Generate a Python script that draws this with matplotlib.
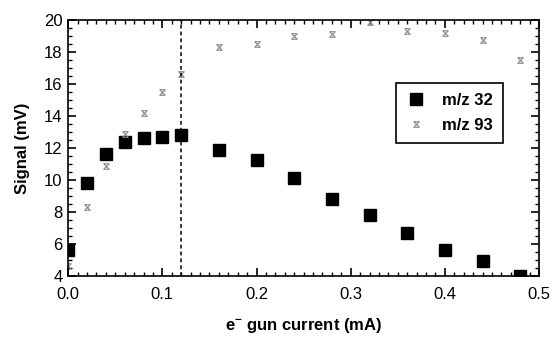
import numpy as np
import matplotlib.pyplot as plt
from matplotlib.path import Path
from matplotlib.ticker import MultipleLocator, FormatStrFormatter

plt.rcParams['font.family'] = ['Liberation Sans', 'DejaVu Sans']
plt.rcParams['mathtext.fontset'] = 'custom'
plt.rcParams['mathtext.rm'] = 'Liberation Sans'
plt.rcParams['mathtext.bf'] = 'Liberation Sans:bold'

# e-gun current (mA)
current = [0.0, 0.02, 0.04, 0.06, 0.08, 0.10, 0.12, 0.16, 0.20, 0.24,
           0.28, 0.32, 0.36, 0.40, 0.44, 0.48]
# signal (mV)
mz32 = [5.6, 9.8, 11.6, 12.4, 12.6, 12.7, 12.8, 11.9, 11.25, 10.1,
        8.8, 7.8, 6.7, 5.6, 4.95, 4.0]
mz93 = [4.6, 8.3, 10.9, 12.9, 14.2, 15.5, 16.6, 18.3, 18.5, 19.0,
        19.1, 19.9, 19.3, 19.2, 18.75, 17.5]
cutoff = 0.12

# little hourglass marker
hourglass = Path([(-1, 1), (1, 1), (-1, -1), (1, -1), (-1, 1)],
                 [Path.MOVETO, Path.LINETO, Path.LINETO, Path.LINETO, Path.LINETO])

fig = plt.figure(figsize=(5.5, 3.4), dpi=100)
ax = fig.add_axes([0.124, 0.188, 0.856, 0.753])

ax.plot(current, mz32, 's', color='black', markersize=9, label='m/z 32')
ax.plot(current, mz93, linestyle='none', marker=hourglass, markersize=4,
        markerfacecolor='none', markeredgecolor='#888888', markeredgewidth=0.8,
        label='m/z 93')
ax.axvline(cutoff, color='black', linestyle=(0, (2.5, 2)), linewidth=1.1)

ax.set_xlim(0, 0.5)
ax.set_ylim(4, 20)
ax.xaxis.set_major_locator(MultipleLocator(0.1))
ax.xaxis.set_minor_locator(MultipleLocator(0.01))
ax.xaxis.set_major_formatter(FormatStrFormatter('%.1f'))
ax.yaxis.set_major_locator(MultipleLocator(2))
ax.yaxis.set_minor_locator(MultipleLocator(0.5))
ax.tick_params(which='both', direction='in', top=True, right=True, labelsize=12)
ax.tick_params(axis='x', pad=8)
ax.tick_params(axis='y', pad=4)
ax.tick_params(which='major', length=6, width=1.2)
ax.tick_params(which='minor', length=3, width=1)
for s in ax.spines.values():
    s.set_linewidth(1.2)

ax.set_xlabel(r'$\mathbf{e^{-}}$ gun current (mA)', fontsize=12, fontweight='bold',
              labelpad=10)
ax.set_ylabel('Signal (mV)', fontsize=12, fontweight='bold', labelpad=10)

leg = ax.legend(loc='upper right', bbox_to_anchor=(0.924, 0.754), borderaxespad=0,
                fancybox=False, edgecolor='black', framealpha=1,
                prop={'weight': 'bold', 'size': 12}, handlelength=1.2,
                handletextpad=1.0, borderpad=0.6, labelspacing=0.6)
leg.get_frame().set_linewidth(1.2)

fig.savefig('out.png', dpi=100)
